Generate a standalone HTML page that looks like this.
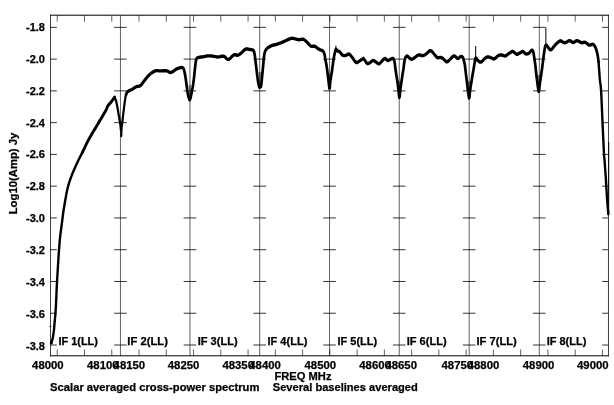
<!DOCTYPE html>
<html><head><meta charset="utf-8"><title>Spectrum</title>
<style>html,body{margin:0;padding:0;background:#fff}svg{display:block}text{font-family:"Liberation Sans",sans-serif;font-weight:bold;font-size:10.6px;fill:#000;stroke:#000;stroke-width:0.25px}</style></head><body>
<svg width="614" height="405" viewBox="0 0 614 405">
<rect width="614" height="405" fill="#fff"/>
<path d="M50.52,14.7V356.3M608.47,14.7V356.3" fill="none" stroke="#000" stroke-width="0.75"/>
<path d="M50.150000000000006,15.2H608.84M50.150000000000006,355.8H608.84" fill="none" stroke="#000" stroke-width="1.0"/>
<path d="M120.44,15.4V355.8M189.95,15.4V355.8M259.70,15.4V355.8M329.55,15.4V355.8M399.26,15.4V355.8M469.20,15.4V355.8M539.30,15.4V355.8M57.25,15.4v6.3M57.25,355.8v-6.3M84.51,15.4v6.3M84.51,355.8v-6.3M111.77,15.4v6.3M111.77,355.8v-6.3M139.03,15.4v6.3M139.03,355.8v-6.3M166.29,15.4v6.3M166.29,355.8v-6.3M193.55,15.4v6.3M193.55,355.8v-6.3M220.81,15.4v6.3M220.81,355.8v-6.3M248.07,15.4v6.3M248.07,355.8v-6.3M275.33,15.4v6.3M275.33,355.8v-6.3M302.59,15.4v6.3M302.59,355.8v-6.3M329.85,15.4v6.3M329.85,355.8v-6.3M357.11,15.4v6.3M357.11,355.8v-6.3M384.37,15.4v6.3M384.37,355.8v-6.3M411.63,15.4v6.3M411.63,355.8v-6.3M438.89,15.4v6.3M438.89,355.8v-6.3M466.15,15.4v6.3M466.15,355.8v-6.3M493.41,15.4v6.3M493.41,355.8v-6.3M520.67,15.4v6.3M520.67,355.8v-6.3M547.93,15.4v6.3M547.93,355.8v-6.3M575.19,15.4v6.3M575.19,355.8v-6.3M602.45,15.4v6.3M602.45,355.8v-6.3" fill="none" stroke="#000" stroke-width="0.62"/>
<path d="M50.52,27.35h6.3M608.47,27.35h-6.3M114.14,27.35h12.6M183.65,27.35h12.6M253.40,27.35h12.6M323.25,27.35h12.6M392.96,27.35h12.6M462.90,27.35h12.6M533.00,27.35h12.6M50.52,59.12h6.3M608.47,59.12h-6.3M114.14,59.12h12.6M183.65,59.12h12.6M253.40,59.12h12.6M323.25,59.12h12.6M392.96,59.12h12.6M462.90,59.12h12.6M533.00,59.12h12.6M50.52,90.88h6.3M608.47,90.88h-6.3M114.14,90.88h12.6M183.65,90.88h12.6M253.40,90.88h12.6M323.25,90.88h12.6M392.96,90.88h12.6M462.90,90.88h12.6M533.00,90.88h12.6M50.52,122.65h6.3M608.47,122.65h-6.3M114.14,122.65h12.6M183.65,122.65h12.6M253.40,122.65h12.6M323.25,122.65h12.6M392.96,122.65h12.6M462.90,122.65h12.6M533.00,122.65h12.6M50.52,154.41h6.3M608.47,154.41h-6.3M114.14,154.41h12.6M183.65,154.41h12.6M253.40,154.41h12.6M323.25,154.41h12.6M392.96,154.41h12.6M462.90,154.41h12.6M533.00,154.41h12.6M50.52,186.17h6.3M608.47,186.17h-6.3M114.14,186.17h12.6M183.65,186.17h12.6M253.40,186.17h12.6M323.25,186.17h12.6M392.96,186.17h12.6M462.90,186.17h12.6M533.00,186.17h12.6M50.52,217.94h6.3M608.47,217.94h-6.3M114.14,217.94h12.6M183.65,217.94h12.6M253.40,217.94h12.6M323.25,217.94h12.6M392.96,217.94h12.6M462.90,217.94h12.6M533.00,217.94h12.6M50.52,249.71h6.3M608.47,249.71h-6.3M114.14,249.71h12.6M183.65,249.71h12.6M253.40,249.71h12.6M323.25,249.71h12.6M392.96,249.71h12.6M462.90,249.71h12.6M533.00,249.71h12.6M50.52,281.47h6.3M608.47,281.47h-6.3M114.14,281.47h12.6M183.65,281.47h12.6M253.40,281.47h12.6M323.25,281.47h12.6M392.96,281.47h12.6M462.90,281.47h12.6M533.00,281.47h12.6M50.52,313.24h6.3M608.47,313.24h-6.3M114.14,313.24h12.6M183.65,313.24h12.6M253.40,313.24h12.6M323.25,313.24h12.6M392.96,313.24h12.6M462.90,313.24h12.6M533.00,313.24h12.6M50.52,345.00h6.3M608.47,345.00h-6.3M114.14,345.00h12.6M183.65,345.00h12.6M253.40,345.00h12.6M323.25,345.00h12.6M392.96,345.00h12.6M462.90,345.00h12.6M533.00,345.00h12.6" fill="none" stroke="#000" stroke-width="0.8"/>
<path d="M335.9,45.6L335.9,50M475.7,46L475.7,58.5M545.85,27.4L545.85,45.6M608.7,142L608.7,215M49.6,326.3L51.4,326.3M363.6,56.5L363.6,59" fill="none" stroke="#000" stroke-width="1.0"/>
<g transform="scale(1,1.1667)"><path d="M51.20,294.00L51.50,293.14L52.70,290.14L52.82,289.45L53.00,288.50L53.21,287.37L53.42,286.15L53.63,284.93L53.80,283.80L53.94,282.78L54.05,281.81L54.16,280.84L54.26,279.83L54.37,278.71L54.50,277.46L54.65,276.04L54.82,274.48L55.00,272.83L55.18,271.13L55.35,269.40L55.50,267.69L55.64,265.98L55.76,264.25L55.88,262.50L55.99,260.73L56.10,258.94L56.20,257.14L56.30,255.31L56.39,253.45L56.48,251.57L56.56,249.69L56.65,247.83L56.75,246.00L56.86,244.21L56.97,242.44L57.09,240.70L57.21,238.96L57.33,237.21L57.45,235.46L57.57,233.69L57.69,231.92L57.82,230.14L57.94,228.37L58.07,226.60L58.20,224.83L58.33,223.07L58.45,221.33L58.58,219.59L58.71,217.84L58.85,216.08L59.00,214.29L59.16,212.46L59.33,210.59L59.50,208.71L59.69,206.83L59.88,204.97L60.10,203.14L60.34,201.35L60.60,199.59L60.87,197.84L61.15,196.10L61.43,194.36L61.70,192.60L61.96,190.83L62.22,189.06L62.48,187.29L62.74,185.51L63.01,183.74L63.30,181.97L63.60,180.22L63.91,178.47L64.24,176.73L64.57,174.98L64.93,173.22L65.30,171.43L65.68,169.60L66.07,167.74L66.47,165.86L66.90,163.98L67.37,162.12L67.90,160.29L68.48,158.49L69.11,156.73L69.77,154.98L70.48,153.24L71.22,151.50L72.00,149.74L72.81,147.98L73.67,146.21L74.56,144.44L75.49,142.67L76.43,140.90L77.40,139.11L78.44,137.26L79.56,135.33L80.70,133.39L81.81,131.53L82.83,129.81M598.54,53.04L598.73,55.16L598.91,57.36L599.10,59.57L599.29,61.78L599.47,64.02L599.67,66.29L599.90,68.57L600.17,70.45L600.46,72.07L600.78,74.25L601.10,77.83L601.43,83.35L601.78,90.26L602.14,97.72L602.50,104.91L602.89,112.20L603.31,119.84L603.69,126.78L604.00,132.00L604.17,134.52L604.26,135.12L604.34,135.41L604.50,136.97L604.79,140.35L605.16,144.66L605.54,149.35L605.90,153.86L606.21,158.20L606.51,162.61L606.80,166.89L607.10,170.83L607.43,174.58L607.78,178.19L608.08,181.27L608.30,183.43" fill="none" stroke="#000" stroke-width="2.4" stroke-linejoin="round" stroke-linecap="round"/></g>
<g transform="scale(1,1.2727)"><path d="M114.60,76.45L116.10,79.20L117.60,85.01L119.00,91.69L120.30,97.51L120.90,102.14M121.20,106.78L121.27,105.45L121.37,103.51L121.48,101.50L121.60,99.94L121.71,99.13L121.81,98.73L121.94,98.33L122.10,97.51L122.30,96.13L122.54,94.44L122.80,92.54L123.10,90.51L123.44,88.29L123.82,85.84L124.21,83.39L124.60,81.16L124.96,79.15L125.31,77.24L125.68,75.55L126.10,74.17" fill="none" stroke="#000" stroke-width="2.2" stroke-linejoin="round" stroke-linecap="round"/></g>
<circle cx="51.3" cy="342.7" r="1.5" fill="#000"/>
<g transform="scale(1,1.2593)"><path d="M82.83,120.26L83.70,118.88L84.39,117.74L84.94,116.80L85.40,116.00L85.81,115.27L86.23,114.55L86.70,113.80L87.21,113.01L87.73,112.24L88.24,111.48L88.76,110.74L89.28,110.00L89.80,109.27L90.31,108.54L90.83,107.82L91.34,107.11L91.85,106.40L92.37,105.69L92.90,104.98L93.44,104.27L93.99,103.56L94.54,102.85L95.09,102.14L95.65,101.42L96.20,100.69L96.76,99.94L97.32,99.16L97.89,98.38L98.44,97.60L98.98,96.86L99.50,96.17L99.97,95.56L100.40,95.02L100.81,94.52L101.23,94.00L101.69,93.43L102.20,92.75L102.80,91.93L103.49,91.00L104.21,90.00L104.91,89.01L105.56,88.08L106.10,87.27L106.50,86.60L106.80,86.02L107.03,85.50L107.26,85.01L107.53,84.53L107.90,84.02L108.38,83.49L108.92,82.97L109.51,82.45L110.11,81.93L110.72,81.39L111.30,80.84L111.89,80.23L112.53,79.55L113.16,78.86L113.75,78.21L114.24,77.66L114.60,77.27M126.10,74.96L126.57,73.98L127.06,73.34L127.63,72.87L128.30,72.42L129.10,72.02L130.01,71.73L130.99,71.44L132.00,71.07L133.06,70.55L134.18,69.93L135.31,69.33L136.40,68.85L137.43,68.63L138.43,68.56L139.42,68.44L140.40,68.06L141.36,67.30L142.29,66.31L143.25,65.20L144.30,64.09L145.45,62.93L146.68,61.69L147.96,60.48L149.30,59.40L150.74,58.44L152.26,57.56L153.78,56.82L155.20,56.30L156.43,56.09L157.54,56.11L158.68,56.23L160.00,56.30L161.65,56.27L163.50,56.22L165.33,56.21L166.90,56.30L168.06,56.63L168.96,57.12L169.83,57.52L170.90,57.57L172.27,57.11L173.81,56.29L175.36,55.40L176.80,54.71L178.11,54.25L179.37,53.88L180.51,53.65L181.50,53.60L182.27,53.66L182.88,53.84L183.39,54.29L183.90,55.19L184.41,56.64L184.88,58.54L185.34,60.72L185.80,63.05L186.28,65.72L186.76,68.72L187.24,71.63L187.70,74.01L188.17,75.76L188.64,77.10L189.06,78.11L189.40,78.86L189.62,79.24L189.76,79.28L189.84,79.16L189.90,79.09M190.50,78.06L191.02,75.97L191.78,72.98L192.59,69.56L193.30,66.15L193.88,62.58L194.41,58.71L194.88,55.04L195.30,52.09L195.61,50.07L195.82,48.67L196.05,47.68L196.40,46.85L196.89,46.24L197.47,45.92L198.14,45.75L198.90,45.58L199.77,45.41L200.75,45.31L201.80,45.22L202.90,45.11L204.06,44.92L205.29,44.71L206.55,44.51L207.80,44.39L209.05,44.36L210.30,44.38L211.55,44.45L212.80,44.55L214.05,44.72L215.31,44.95L216.54,45.16L217.70,45.26L218.79,45.20L219.82,45.02L220.80,44.82L221.70,44.71L222.52,44.68L223.27,44.69L223.96,44.77L224.60,44.95L225.15,45.29L225.62,45.77L226.09,46.25L226.60,46.61L227.18,46.88L227.79,47.10L228.44,47.20L229.10,47.09L229.81,46.69L230.55,46.05L231.29,45.36L232.00,44.79L232.63,44.34L233.22,43.94L233.82,43.63L234.50,43.44L235.28,43.47L236.14,43.67L237.02,43.86L237.90,43.84L238.78,43.53L239.68,43.05L240.56,42.49L241.40,41.93L242.20,41.35L242.97,40.71L243.70,40.11L244.40,39.63L245.03,39.29L245.60,39.06L246.17,38.91L246.80,38.83L247.52,38.87L248.29,39.00L249.07,39.17L249.80,39.31L250.47,39.36L251.12,39.38L251.73,39.44L252.30,39.63L252.82,39.81L253.31,40.00L253.76,40.46L254.20,41.45L254.61,43.11L255.00,45.27L255.39,47.76L255.80,50.43L256.26,53.47L256.76,56.89L257.25,60.22L257.70,62.97L258.12,65.06L258.53,66.72L258.90,67.99L259.20,68.93L259.43,69.41L259.59,69.46L259.71,69.32L259.80,69.25M260.40,68.29L260.52,68.50L260.69,68.86L260.91,68.78L261.20,67.66L261.59,64.98L262.07,61.19L262.56,57.09L263.00,53.52L263.34,50.57L263.62,47.84L263.92,45.40L264.30,43.36L264.72,41.80L265.17,40.66L265.73,39.76L266.50,38.91L267.53,38.10L268.77,37.40L270.12,36.81L271.50,36.29L272.89,35.90L274.33,35.63L275.83,35.37L277.40,35.02L279.05,34.53L280.79,33.97L282.55,33.38L284.30,32.80L286.09,32.17L287.93,31.49L289.68,30.89L291.20,30.49L292.41,30.38L293.39,30.46L294.27,30.64L295.20,30.81L296.18,31.01L297.15,31.26L298.12,31.49L299.10,31.61L300.10,31.51L301.11,31.27L302.11,31.08L303.10,31.13L304.06,31.49L305.00,32.05L305.94,32.73L306.90,33.43L307.89,34.24L308.89,35.15L309.90,36.01L310.90,36.61L311.88,36.81L312.85,36.74L313.82,36.65L314.80,36.77L315.79,37.21L316.78,37.83L317.78,38.50L318.80,39.07L319.90,39.47L321.05,39.79L322.13,40.12L323.00,40.58L323.60,41.19L324.01,41.90L324.32,42.68L324.60,43.52L324.85,44.43L325.04,45.42L325.20,46.44L325.40,47.45L325.64,48.41L325.89,49.35L326.15,50.33L326.40,51.38L326.64,52.54L326.87,53.78L327.09,55.05L327.30,56.30L327.49,57.52L327.66,58.73L327.82,59.93L328.00,61.15L328.20,62.39L328.41,63.65L328.61,64.89L328.80,66.07L328.98,67.26L329.15,68.44L329.30,69.48L329.40,70.20M329.80,69.88L329.84,69.22L329.89,68.28L329.98,67.19L330.10,66.07L330.28,64.92L330.51,63.67L330.75,62.40L331.00,61.15L331.25,59.93L331.51,58.73L331.76,57.52L332.00,56.30L332.21,55.08L332.41,53.85L332.60,52.61L332.80,51.38L333.02,50.12L333.24,48.85L333.47,47.61L333.70,46.46L333.94,45.40L334.18,44.42L334.43,43.48L334.70,42.56L334.97,41.56L335.24,40.52L335.55,39.65L335.90,39.15L336.33,39.19L336.81,39.62L337.32,40.18L337.80,40.58L338.24,40.72L338.66,40.75L339.10,40.82L339.60,41.06L340.19,41.57L340.84,42.28L341.50,42.98L342.10,43.52L342.61,43.83L343.06,44.01L343.50,44.10L344.00,44.15L344.56,44.16L345.16,44.09L345.77,43.98L346.40,43.84L347.02,43.55L347.64,43.17L348.30,42.87L349.00,42.88L349.76,43.29L350.56,43.96L351.41,44.80L352.30,45.66L353.25,46.70L354.26,47.92L355.29,49.00L356.30,49.63L357.29,49.62L358.29,49.17L359.26,48.55L360.20,48.04L361.08,47.59L361.92,47.08L362.75,46.74L363.60,46.77L364.50,47.44L365.43,48.57L366.34,49.71L367.20,50.43L367.97,50.56L368.69,50.36L369.39,49.99L370.10,49.63L370.83,49.23L371.55,48.72L372.28,48.27L373.00,48.04L373.72,48.12L374.44,48.40L375.17,48.78L375.90,49.16L376.64,49.61L377.39,50.16L378.15,50.60L378.90,50.74L379.65,50.45L380.41,49.86L381.16,49.15L381.90,48.52L382.63,47.91L383.35,47.25L384.07,46.71L384.80,46.46L385.55,46.66L386.30,47.19L387.05,47.75L387.80,48.04L388.54,47.94L389.27,47.61L390.00,47.22L390.70,46.93L391.40,46.70L392.10,46.48L392.75,46.38L393.30,46.54L393.73,46.99L394.06,47.67L394.34,48.52L394.60,49.47L394.83,50.56L395.02,51.81L395.20,53.12L395.40,54.40L395.62,55.63L395.84,56.86L396.07,58.09L396.30,59.32L396.55,60.55L396.81,61.79L397.06,63.02L397.30,64.24L397.52,65.46L397.72,66.67L397.91,67.87L398.10,69.09L398.29,70.35L398.47,71.64L398.64,72.89L398.80,74.01L398.95,75.05L399.09,76.03L399.21,76.85L399.30,77.43M399.60,77.03L399.66,76.53L399.76,75.83L399.87,74.97L400.00,74.01L400.15,72.91L400.32,71.66L400.50,70.36L400.70,69.09L400.91,67.87L401.14,66.67L401.37,65.46L401.60,64.24L401.82,63.02L402.04,61.79L402.27,60.55L402.50,59.32L402.75,58.09L403.01,56.86L403.26,55.63L403.50,54.40L403.71,53.13L403.90,51.84L404.09,50.60L404.30,49.47L404.51,48.47L404.73,47.56L404.98,46.75L405.30,46.06L405.70,45.46L406.16,44.94L406.67,44.59L407.20,44.47L407.78,44.70L408.40,45.20L409.02,45.77L409.60,46.22L410.09,46.53L410.52,46.79L410.97,46.96L411.50,47.01L412.13,46.91L412.82,46.69L413.57,46.37L414.40,45.98L415.32,45.43L416.34,44.73L417.38,44.09L418.40,43.68L419.40,43.63L420.41,43.82L421.39,44.06L422.30,44.15L423.11,44.07L423.86,43.91L424.57,43.68L425.30,43.36L426.08,42.91L426.87,42.35L427.63,41.77L428.30,41.29L428.86,40.91L429.34,40.57L429.77,40.32L430.20,40.18L430.63,40.21L431.03,40.36L431.42,40.58L431.80,40.82L432.10,41.02L432.35,41.22L432.67,41.52L433.20,42.01L434.02,42.83L435.04,43.91L436.15,44.95L437.20,45.66L438.21,45.88L439.22,45.79L440.20,45.64L441.10,45.66L441.90,45.94L442.61,46.34L443.30,46.79L444.00,47.25L444.72,47.79L445.44,48.42L446.17,48.94L446.90,49.16L447.65,48.96L448.40,48.47L449.15,47.85L449.90,47.25L450.65,46.64L451.41,45.96L452.14,45.33L452.80,44.87L453.34,44.59L453.79,44.44L454.25,44.42L454.80,44.55L455.48,44.95L456.25,45.58L457.04,46.17L457.80,46.46L458.54,46.28L459.28,45.81L459.98,45.29L460.60,44.95L461.12,44.84L461.56,44.84L461.95,44.94L462.30,45.11L462.59,45.31L462.83,45.58L463.05,45.97L463.30,46.54L463.62,47.35L463.97,48.37L464.31,49.46L464.60,50.51L464.82,51.46L464.99,52.39L465.14,53.35L465.30,54.40L465.47,55.56L465.64,56.79L465.82,58.07L466.00,59.32L466.20,60.55L466.40,61.79L466.60,63.02L466.80,64.24L466.98,65.46L467.15,66.67L467.32,67.87L467.50,69.09L467.70,70.34L467.90,71.61L468.10,72.85L468.30,74.01L468.50,75.15L468.70,76.27L468.88,77.23L469.00,77.90M469.40,77.51L469.45,76.91L469.52,76.07L469.62,75.07L469.75,74.01L469.92,72.88L470.13,71.63L470.37,70.35L470.60,69.09L470.84,67.87L471.09,66.67L471.35,65.46L471.60,64.24L471.85,63.02L472.09,61.79L472.34,60.55L472.60,59.32L472.87,58.09L473.15,56.86L473.43,55.63L473.70,54.40L473.96,53.13L474.21,51.84L474.45,50.60L474.70,49.47L474.92,48.39L475.13,47.33L475.37,46.50L475.70,46.06L476.12,46.19L476.62,46.76L477.18,47.47L477.80,48.04L478.50,48.50L479.26,48.96L480.07,49.28L480.90,49.31L481.76,48.93L482.66,48.22L483.55,47.43L484.40,46.77L485.16,46.25L485.87,45.77L486.59,45.39L487.40,45.19L488.36,45.22L489.41,45.43L490.45,45.73L491.40,45.98L492.18,46.26L492.85,46.59L493.52,46.82L494.30,46.77L495.24,46.31L496.28,45.54L497.32,44.74L498.30,44.15L499.17,43.85L499.98,43.70L500.77,43.66L501.60,43.68L502.50,43.84L503.43,44.14L504.34,44.41L505.20,44.47L505.97,44.24L506.69,43.83L507.38,43.34L508.10,42.88L508.87,42.46L509.66,42.01L510.43,41.61L511.10,41.29L511.61,41.05L511.99,40.86L512.41,40.78L513.00,40.90L513.86,41.35L514.88,42.05L515.94,42.74L516.90,43.12L517.72,43.08L518.46,42.77L519.18,42.36L519.90,42.01L520.63,41.66L521.35,41.26L522.07,40.96L522.80,40.90L523.54,41.22L524.29,41.81L525.05,42.42L525.80,42.80L526.58,42.88L527.38,42.78L528.14,42.57L528.80,42.33L529.32,42.01L529.74,41.61L530.11,41.19L530.50,40.82L530.92,40.46L531.33,40.10L531.73,39.84L532.10,39.79L532.44,39.96L532.74,40.30L533.03,40.81L533.30,41.45L533.55,42.28L533.77,43.27L533.98,44.37L534.20,45.50L534.43,46.67L534.66,47.91L534.89,49.18L535.10,50.43L535.29,51.66L535.46,52.89L535.63,54.12L535.80,55.35L535.97,56.58L536.14,57.82L536.32,59.05L536.50,60.27L536.70,61.50L536.90,62.73L537.10,63.94L537.30,65.12L537.48,66.29L537.66,67.46L537.83,68.57L538.00,69.56L538.17,70.47L538.34,71.31L538.49,72.01L538.60,72.50M539.00,72.26L539.06,71.82L539.16,71.19L539.27,70.43L539.40,69.56L539.55,68.59L539.72,67.48L539.90,66.30L540.10,65.12L540.31,63.94L540.54,62.73L540.77,61.50L541.00,60.27L541.23,59.05L541.46,57.82L541.68,56.58L541.90,55.35L542.11,54.12L542.31,52.89L542.50,51.66L542.70,50.43L542.90,49.19L543.10,47.96L543.30,46.73L543.50,45.50L543.70,44.27L543.89,43.02L544.09,41.81L544.30,40.66L544.53,39.53L544.77,38.42L545.03,37.44L545.30,36.69L545.56,36.18L545.81,35.87L546.10,35.77L546.50,35.89L547.05,36.36L547.71,37.13L548.39,37.96L549.00,38.59L549.50,39.03L549.94,39.37L550.39,39.57L550.90,39.55L551.49,39.24L552.14,38.70L552.81,38.05L553.50,37.40L554.18,36.76L554.86,36.06L555.59,35.36L556.40,34.70L557.33,34.01L558.36,33.28L559.40,32.69L560.40,32.40L561.35,32.57L562.29,33.08L563.19,33.65L564.00,33.99L564.69,34.03L565.28,33.92L565.86,33.73L566.50,33.51L567.22,33.20L567.98,32.80L568.77,32.45L569.60,32.32L570.48,32.56L571.41,33.05L572.36,33.53L573.30,33.75L574.20,33.52L575.07,33.02L575.99,32.53L577.00,32.32L578.18,32.57L579.49,33.09L580.77,33.65L581.90,33.99L582.77,33.95L583.49,33.71L584.18,33.49L585.00,33.51L586.00,33.96L587.11,34.67L588.24,35.38L589.30,35.81L590.30,35.79L591.27,35.50L592.19,35.20L593.00,35.18L593.69,35.51L594.27,36.04L594.80,36.72L595.30,37.48L595.78,38.31L596.21,39.24L596.62,40.29L597.00,41.45L597.36,42.74L597.71,44.15L598.02,45.68L598.30,47.33L598.54,49.14" fill="none" stroke="#000" stroke-width="2.7" stroke-linejoin="round" stroke-linecap="round"/></g>
<path d="M189.9,85V99M259.8,72V87M329.6,74V88M399.45,81V97M469.2,81V98M538.8,75V91" fill="none" stroke="#000" stroke-opacity="0.45" stroke-width="2.2"/>
<text x="45.0" y="31.05" text-anchor="end" textLength="19.0" lengthAdjust="spacingAndGlyphs">-1.8</text>
<text x="45.0" y="62.91" text-anchor="end" textLength="19.0" lengthAdjust="spacingAndGlyphs">-2.0</text>
<text x="45.0" y="94.77" text-anchor="end" textLength="19.0" lengthAdjust="spacingAndGlyphs">-2.2</text>
<text x="45.0" y="126.63" text-anchor="end" textLength="19.0" lengthAdjust="spacingAndGlyphs">-2.4</text>
<text x="45.0" y="158.49" text-anchor="end" textLength="19.0" lengthAdjust="spacingAndGlyphs">-2.6</text>
<text x="45.0" y="190.35" text-anchor="end" textLength="19.0" lengthAdjust="spacingAndGlyphs">-2.8</text>
<text x="45.0" y="222.21" text-anchor="end" textLength="19.0" lengthAdjust="spacingAndGlyphs">-3.0</text>
<text x="45.0" y="254.07" text-anchor="end" textLength="19.0" lengthAdjust="spacingAndGlyphs">-3.2</text>
<text x="45.0" y="285.93" text-anchor="end" textLength="19.0" lengthAdjust="spacingAndGlyphs">-3.4</text>
<text x="45.0" y="317.79" text-anchor="end" textLength="19.0" lengthAdjust="spacingAndGlyphs">-3.6</text>
<text x="45.0" y="349.65" text-anchor="end" textLength="19.0" lengthAdjust="spacingAndGlyphs">-3.8</text>
<text x="32.1" y="368.55" textLength="31.6" lengthAdjust="spacingAndGlyphs">48000</text>
<text x="87.0" y="368.55" textLength="31.6" lengthAdjust="spacingAndGlyphs">48100</text>
<text x="113.6" y="368.55" textLength="31.6" lengthAdjust="spacingAndGlyphs">48150</text>
<text x="167.8" y="368.55" textLength="31.6" lengthAdjust="spacingAndGlyphs">48250</text>
<text x="222.4" y="368.55" textLength="31.6" lengthAdjust="spacingAndGlyphs">48350</text>
<text x="249.3" y="368.55" textLength="31.6" lengthAdjust="spacingAndGlyphs">48400</text>
<text x="304.5" y="368.55" textLength="31.6" lengthAdjust="spacingAndGlyphs">48500</text>
<text x="359.3" y="368.55" textLength="31.6" lengthAdjust="spacingAndGlyphs">48600</text>
<text x="385.4" y="368.55" textLength="31.6" lengthAdjust="spacingAndGlyphs">48650</text>
<text x="441.5" y="368.55" textLength="31.6" lengthAdjust="spacingAndGlyphs">48750</text>
<text x="467.7" y="368.55" textLength="31.6" lengthAdjust="spacingAndGlyphs">48800</text>
<text x="522.8" y="368.55" textLength="31.6" lengthAdjust="spacingAndGlyphs">48900</text>
<text x="577.0" y="368.55" textLength="31.6" lengthAdjust="spacingAndGlyphs">49000</text>
<text x="58.5" y="345.1" textLength="39.4" lengthAdjust="spacingAndGlyphs">IF 1(LL)</text>
<text x="127.3" y="345.1" textLength="40.6" lengthAdjust="spacingAndGlyphs">IF 2(LL)</text>
<text x="197.7" y="345.1" textLength="39.9" lengthAdjust="spacingAndGlyphs">IF 3(LL)</text>
<text x="267.5" y="345.1" textLength="39.8" lengthAdjust="spacingAndGlyphs">IF 4(LL)</text>
<text x="337.5" y="345.1" textLength="39.6" lengthAdjust="spacingAndGlyphs">IF 5(LL)</text>
<text x="406.7" y="345.1" textLength="40.0" lengthAdjust="spacingAndGlyphs">IF 6(LL)</text>
<text x="476.5" y="345.1" textLength="40.3" lengthAdjust="spacingAndGlyphs">IF 7(LL)</text>
<text x="546.7" y="345.1" textLength="39.6" lengthAdjust="spacingAndGlyphs">IF 8(LL)</text>
<text x="274.5" y="379.5" textLength="57" lengthAdjust="spacingAndGlyphs">FREQ MHz</text>
<text x="50.1" y="390.6" textLength="209.3" lengthAdjust="spacingAndGlyphs">Scalar averaged cross-power spectrum</text>
<text x="272.8" y="390.6" textLength="145" lengthAdjust="spacingAndGlyphs">Several baselines averaged</text>
<text transform="translate(17.2,214.3) rotate(-90)" textLength="81.6" lengthAdjust="spacingAndGlyphs">Log10(Amp) Jy</text>
</svg></body></html>
